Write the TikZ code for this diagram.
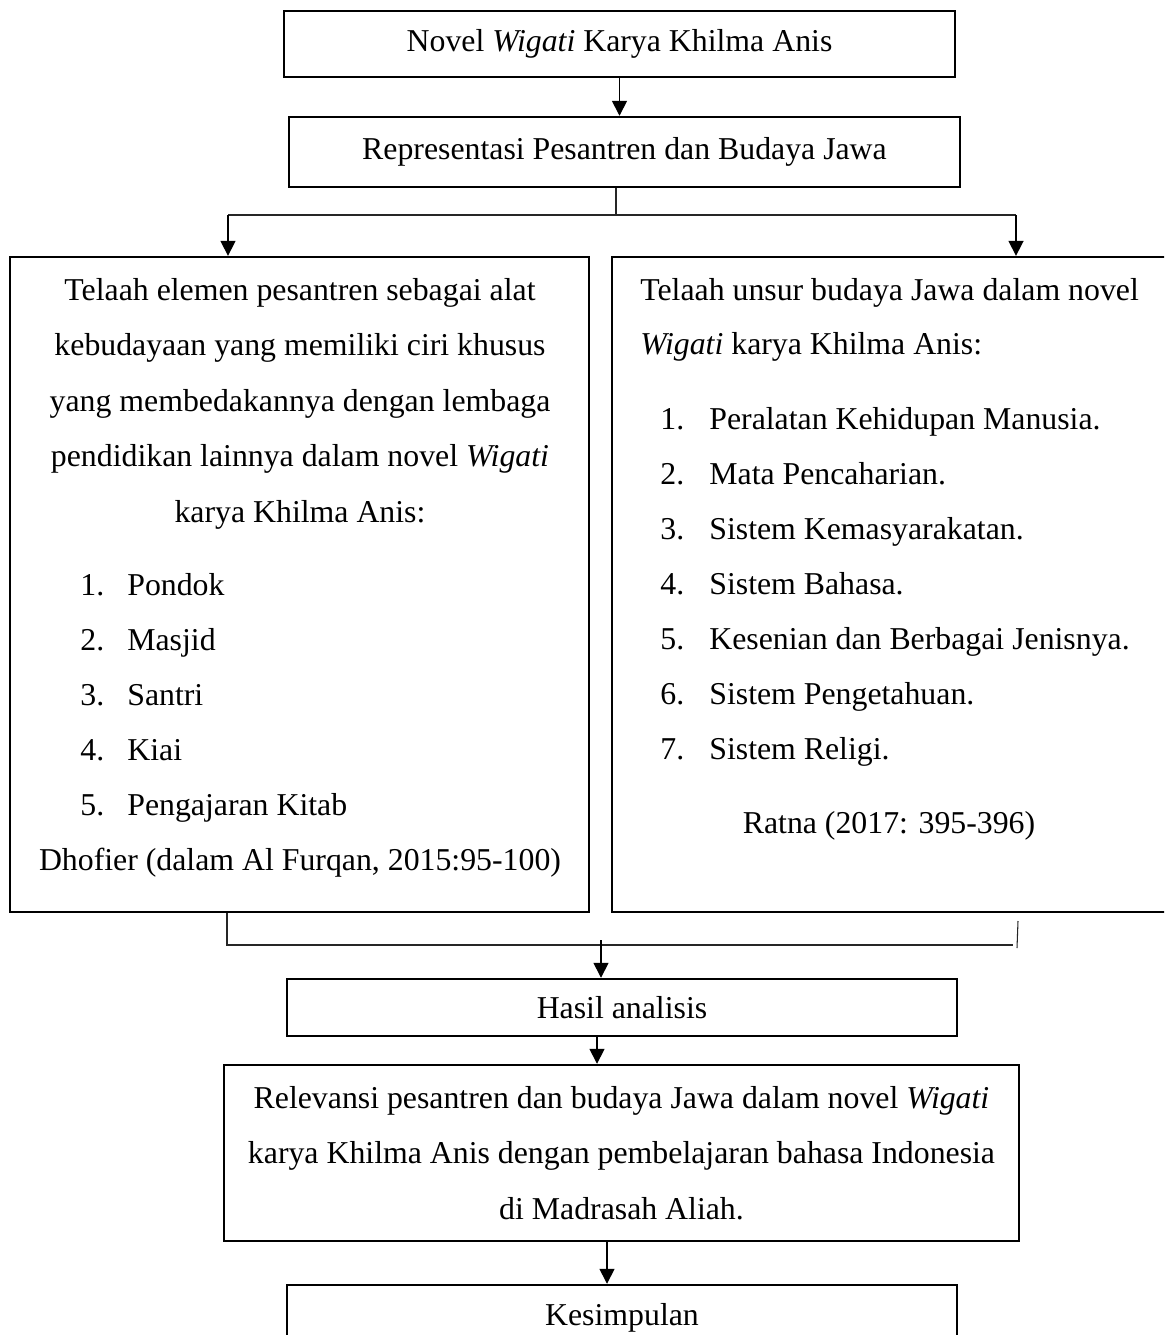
\documentclass[tikz,border=0pt]{standalone}
\usepackage{fontspec}
\setmainfont{Liberation Serif}
\usetikzlibrary{arrows.meta}

\tikzset{
  box/.style={draw, line width=1.4pt, inner sep=0pt, align=center},
  txt/.style={inner sep=0pt, anchor=base},
  txtl/.style={inner sep=0pt, anchor=base west},
  arr/.style={-{Triangle[width=8.5pt,length=8.5pt]}, line width=0.9pt},
  link/.style={line width=0.6pt, black!85},
}

\begin{document}
\begin{tikzpicture}[x=0.02cm, y=-0.02cm, font=\fontsize{18.1pt}{31.6pt}\selectfont]
  \clip (0,0) rectangle (1164,1335);

  % Alur atas
  \node[box, minimum width=13.42cm, minimum height=1.32cm] (novel) at (619.5,44) {Novel \emph{Wigati} Karya Khilma Anis};
  \node[box, minimum width=13.42cm, minimum height=1.4cm] (repr) at (624.5,152) {Representasi Pesantren dan Budaya Jawa};
  \draw[arr] (novel.south) -- (novel.south |- repr.north);

  % Dua telaah
  \node[box, minimum width=11.58cm, minimum height=13.1cm] (telaahpes) at (299.5,584.5) {};
  \node[box, minimum width=11.36cm, minimum height=13.1cm] (telaahbud) at (896,584.5) {};

  \coordinate (splitL) at (228,215);
  \coordinate (splitR) at (1016,215);
  \draw[link] ([xshift=-0.17cm]repr.south) -- ([xshift=-0.17cm]repr.south |- splitL);
  \draw[link] (splitL) -- (splitR);
  \draw[arr] (splitL) -- (splitL |- telaahpes.north);
  \draw[arr] (splitR) -- (splitR |- telaahbud.north);

  % Isi kotak kiri
  \foreach \t [count=\i from 0] in {Telaah elemen pesantren sebagai alat, kebudayaan yang memiliki ciri khusus, yang membedakannya dengan lembaga, {pendidikan lainnya dalam novel \emph{Wigati}}, karya Khilma Anis:}
    \node[txt] (pes\i) at (300,300+55.5*\i) {\t};
  \foreach \t [count=\i] in {Pondok, Masjid, Santri, Kiai, Pengajaran Kitab} {
    \node[txtl] (pesno\i) at (80,540+55*\i) {\i.};
    \node[txtl] (pesitem\i) at (127,540+55*\i) {\t};
  }
  \node[txt] (pessrc) at (300,870) {Dhofier (dalam Al Furqan, 2015:95-100)};

  % Isi kotak kanan
  \node[txtl] (bud0) at (640,300) {Telaah unsur budaya Jawa dalam novel};
  \node[txtl] (bud1) at (640,354) {\emph{Wigati} karya Khilma Anis:};
  \foreach \t [count=\i] in {Peralatan Kehidupan Manusia., Mata Pencaharian., Sistem Kemasyarakatan., Sistem Bahasa., Kesenian dan Berbagai Jenisnya., Sistem Pengetahuan., Sistem Religi.} {
    \node[txtl] (budno\i) at (660,374+55*\i) {\i.};
    \node[txtl] (buditem\i) at (709,374+55*\i) {\t};
  }
  \node[txt] (budsrc) at (889,833) {Ratna (2017: 395-396)};

  % Alur bawah
  \node[box, minimum width=13.4cm, minimum height=1.14cm] (hasil) at (622,1007.5) {Hasil analisis};
  \node[box, minimum width=15.9cm, minimum height=3.52cm] (relevansi) at (621.5,1153)
    {Relevansi pesantren dan budaya Jawa dalam novel \emph{Wigati}\\karya Khilma Anis dengan pembelajaran bahasa Indonesia\\di Madrasah Aliah.};
  \node[box, minimum width=13.4cm, minimum height=1.3cm] (simpulan) at (622,1317.5) {Kesimpulan};

  \coordinate (joinL) at (227,945);
  \coordinate (joinR) at (1013,945);
  \coordinate (tickR) at (1018,921);
  \coordinate (join) at (601,940);
  \draw[link] (joinL |- telaahpes.south) -- (joinL) -- (joinR);
  \draw[link] (tickR) -- ++(-1,27);
  \draw[arr] (join) -- (join |- hasil.north);
  \draw[arr] ([xshift=-0.5cm]hasil.south) -- ([xshift=-0.5cm]hasil.south |- relevansi.north);
  \draw[arr] ([xshift=-0.29cm]relevansi.south) -- ([xshift=-0.29cm]relevansi.south |- simpulan.north);
\end{tikzpicture}
\end{document}
